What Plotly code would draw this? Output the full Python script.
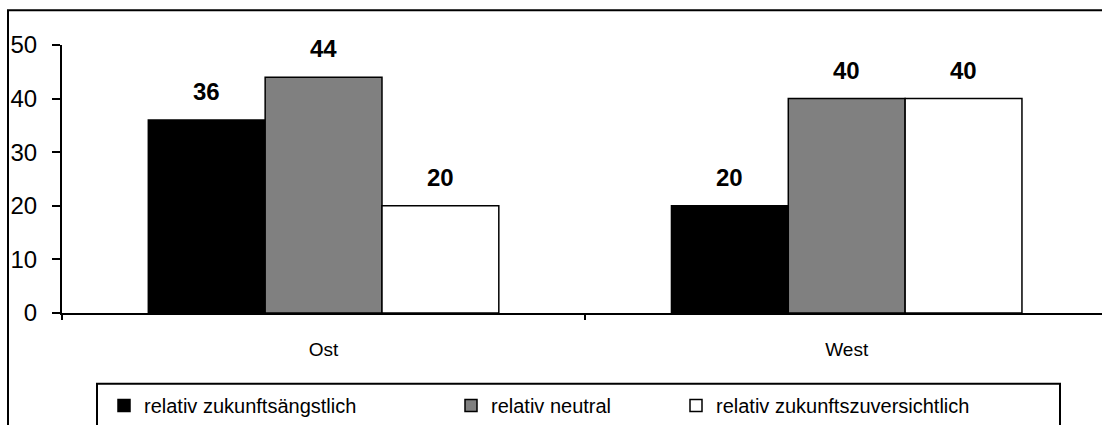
import plotly.graph_objects as go

# Survey shares (%) by region
regions = ["Ost", "West"]
series_names = ["relativ zukunftsängstlich", "relativ neutral", "relativ zukunftszuversichtlich"]
angst = [36, 20]
neutral = [44, 40]
zuversicht = [20, 40]
y_ticks = [0, 10, 20, 30, 40, 50]

series_values = [angst, neutral, zuversicht]
fills = ["#000000", "#808080", "#ffffff"]

FONT = "Arial, Liberation Sans, sans-serif"
W, H = 1102, 425
M_L, M_R, M_T, M_B = 62, 0, 45, 111
plot_w = W - M_L - M_R
plot_h = H - M_T - M_B
x_range = [-0.5, 1.488]
cat_px = plot_w / (x_range[1] - x_range[0])
bargap = 0.33
bar_px = cat_px * (1 - bargap) / len(series_values)


def px_x(px):
    return (px - M_L) / plot_w


def px_y(py):
    return (H - M_B - py) / plot_h


# legend entries sit in one shared box; each one gets its own legend slot
legend_text_px = [145, 492, 717]
legend_ids = ["legend", "legend2", "legend3"]

fig = go.Figure()
for i, (name, vals, col) in enumerate(zip(series_names, series_values, fills)):
    fig.add_trace(go.Bar(
        x=regions, y=vals, name=name, legend=legend_ids[i],
        marker=dict(color=col, line=dict(color="black", width=1.5)),
    ))
    offset = (i - (len(series_values) - 1) / 2) * bar_px
    for r, v in zip(regions, vals):
        fig.add_annotation(
            x=r, y=v, xref="x", yref="y", text=f"<b>{v}</b>",
            showarrow=False, xanchor="center", yanchor="bottom",
            xshift=offset, yshift=13,
            font=dict(family=FONT, size=24, color="black"),
        )

# outer chart frame
fig.add_shape(
    type="rect", xref="paper", yref="paper",
    x0=px_x(8), x1=1.02, y0=-0.5, y1=px_y(10),
    line=dict(color="black", width=2), fillcolor="rgba(0,0,0,0)", layer="below",
)
# legend frame
fig.add_shape(
    type="rect", xref="paper", yref="paper",
    x0=px_x(97), x1=px_x(1060), y0=px_y(440), y1=px_y(385),
    line=dict(color="black", width=2), fillcolor="white", layer="below",
)

legend_common = dict(
    orientation="h", xanchor="left", yanchor="top", y=px_y(387),
    borderwidth=0, bgcolor="rgba(0,0,0,0)",
    font=dict(family=FONT, size=20, color="black"),
)
legend_layout = {
    lid: dict(legend_common, x=px_x(tx - 41))
    for lid, tx in zip(legend_ids, legend_text_px)
}

fig.update_layout(
    width=W, height=H,
    margin=dict(l=M_L, r=M_R, t=M_T, b=M_B, pad=0),
    paper_bgcolor="white", plot_bgcolor="white",
    barmode="group", bargap=bargap, bargroupgap=0,
    showlegend=True,
    font=dict(family=FONT, color="black"),
    xaxis=dict(
        type="category", range=x_range,
        showline=True, linecolor="black", linewidth=2,
        ticks="outside", ticklen=5, tickwidth=2, tickcolor="black",
        tickson="boundaries", showgrid=False, zeroline=False,
        tickfont=dict(family=FONT, size=19, color="black"),
        ticklabelstandoff=18,
    ),
    yaxis=dict(
        range=[0, 50], tickvals=y_ticks,
        showline=True, linecolor="black", linewidth=2,
        ticks="outside", ticklen=8, tickwidth=2, tickcolor="black",
        showgrid=False, zeroline=False,
        tickfont=dict(family=FONT, size=24, color="black"),
        ticklabelstandoff=10,
    ),
    **legend_layout,
)

fig.write_html("out.html")
